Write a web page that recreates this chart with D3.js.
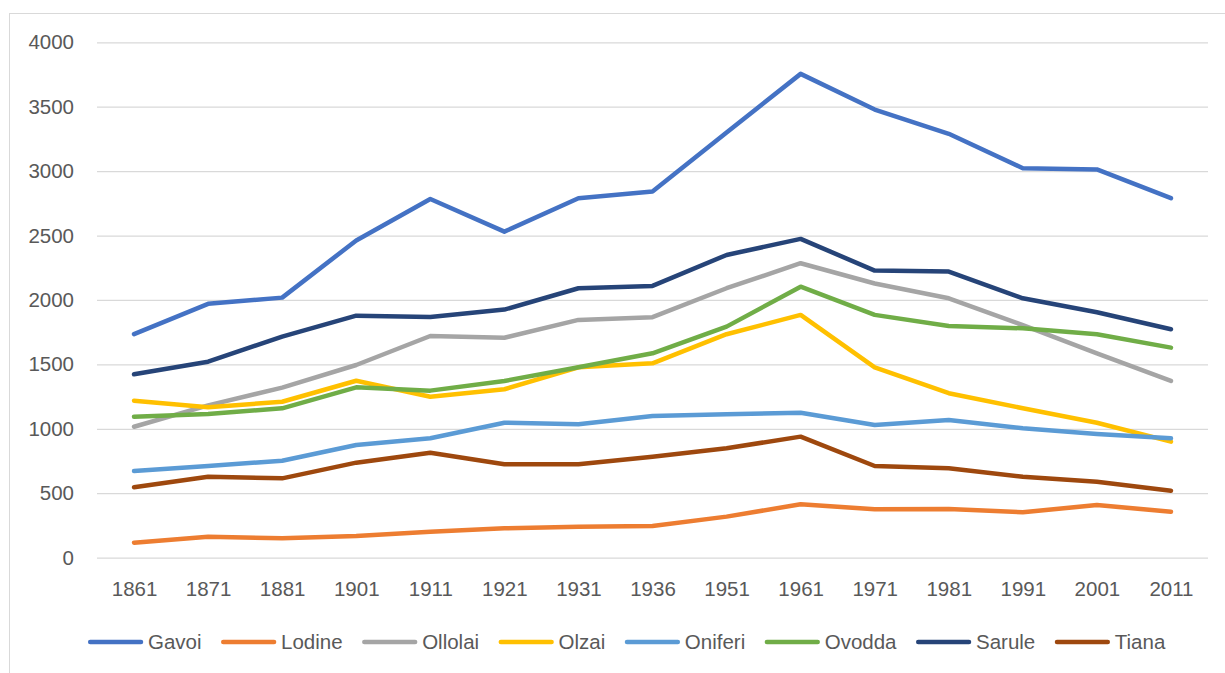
<!DOCTYPE html>
<html>
<head>
<meta charset="utf-8">
<script src="https://cdn.jsdelivr.net/npm/d3@7"></script>
<style>
  body { margin: 0; background: #fff; }
  svg { display: block; font-family: "Liberation Sans", Arial, sans-serif; }
</style>
</head>
<body>
<div id="chart-area"></div>
<script>
// census years
var years = ["1861", "1871", "1881", "1901", "1911", "1921", "1931", "1936", "1951", "1961", "1971", "1981", "1991", "2001", "2011"];
var yTicks = [0, 500, 1000, 1500, 2000, 2500, 3000, 3500, 4000];

var names = ["Gavoi", "Lodine", "Ollolai", "Olzai", "Oniferi", "Ovodda", "Sarule", "Tiana"];
var colors = ["#4472C4", "#ED7D31", "#A5A5A5", "#FFC000", "#5B9BD5", "#70AD47", "#264478", "#9E480E"];

var gavoi   = [1735, 1970, 2018, 2462, 2784, 2530, 2790, 2841, 3300, 3755, 3478, 3290, 3022, 3013, 2790];
var lodine  = [116, 162, 150, 168, 201, 227, 240, 245, 318, 414, 375, 377, 352, 408, 356];
var ollolai = [1016, 1182, 1319, 1495, 1720, 1707, 1845, 1866, 2091, 2285, 2128, 2013, 1805, 1586, 1371];
var olzai   = [1218, 1167, 1210, 1373, 1249, 1307, 1477, 1508, 1734, 1884, 1477, 1276, 1159, 1047, 900];
var oniferi = [672, 711, 752, 874, 926, 1047, 1035, 1099, 1112, 1125, 1029, 1068, 1004, 960, 926];
var ovodda  = [1094, 1115, 1159, 1322, 1296, 1371, 1477, 1586, 1793, 2103, 1884, 1798, 1780, 1734, 1630];
var sarule  = [1423, 1521, 1715, 1878, 1868, 1925, 2091, 2109, 2349, 2474, 2228, 2220, 2013, 1905, 1773];
var tiana   = [546, 628, 615, 737, 814, 724, 724, 783, 849, 939, 711, 693, 628, 589, 519];

var seriesValues = [gavoi, lodine, ollolai, olzai, oniferi, ovodda, sarule, tiana];

var W = 1225, H = 673;
var plot = { left: 97, right: 1208, top: 42.3, bottom: 557.6 };
var textColor = "#595959";

var svg = d3.select("#chart-area").append("svg")
    .attr("width", W)
    .attr("height", H);

// outer chart border
svg.append("rect")
    .attr("x", 9.5).attr("y", 13.5)
    .attr("width", W + 20).attr("height", H + 20)
    .attr("fill", "none")
    .attr("stroke", "#d9d9d9")
    .attr("stroke-width", 1);

var x = d3.scalePoint()
    .domain(years)
    .range([plot.left, plot.right])
    .padding(0.5);

var y = d3.scaleLinear()
    .domain([0, 4000])
    .range([plot.bottom, plot.top]);

// y axis + gridlines
var yAxis = svg.append("g")
    .attr("transform", "translate(" + plot.left + " 0)")
    .call(d3.axisLeft(y)
        .tickValues(yTicks)
        .tickSize(-(plot.right - plot.left))
        .tickPadding(23)
        .tickFormat(d3.format("d")));
yAxis.select(".domain").remove();
yAxis.selectAll(".tick line")
    .attr("stroke", "#d9d9d9")
    .attr("stroke-width", 1.3);
yAxis.selectAll(".tick text")
    .attr("fill", textColor)
    .attr("font-size", "20.5px")
    .attr("font-family", "Liberation Sans, Arial, sans-serif");

// x axis labels
var xAxis = svg.append("g")
    .attr("transform", "translate(0 " + plot.bottom + ")")
    .call(d3.axisBottom(x).tickSize(0).tickPadding(0));
xAxis.select(".domain").remove();
xAxis.selectAll(".tick text")
    .attr("y", 31)
    .attr("dy", "0.35em")
    .attr("fill", textColor)
    .attr("font-size", "20.5px")
    .attr("font-family", "Liberation Sans, Arial, sans-serif");

// the lines
var line = d3.line()
    .x(function(d, i) { return x(years[i]); })
    .y(function(d) { return y(d); });

svg.append("g").selectAll("path")
    .data(seriesValues).enter()
    .append("path")
        .attr("d", line)
        .attr("fill", "none")
        .attr("stroke", function(d, i) { return colors[i]; })
        .attr("stroke-width", 4.5)
        .attr("stroke-linejoin", "round")
        .attr("stroke-linecap", "round");

// legend
var legend = svg.append("g");
var lx = 88, ly = 642;
names.forEach(function(name, i) {
    legend.append("line")
        .attr("x1", lx + 2.2).attr("x2", lx + 53)
        .attr("y1", ly).attr("y2", ly)
        .attr("stroke", colors[i])
        .attr("stroke-width", 4.5)
        .attr("stroke-linecap", "round");
    var t = legend.append("text")
        .attr("x", lx + 60)
        .attr("y", ly)
        .attr("dy", "0.35em")
        .attr("fill", textColor)
        .attr("font-size", "20.5px")
        .text(name);
    lx = lx + 60 + t.node().getComputedTextLength() + 19.5;
});
</script>
</body>
</html>
